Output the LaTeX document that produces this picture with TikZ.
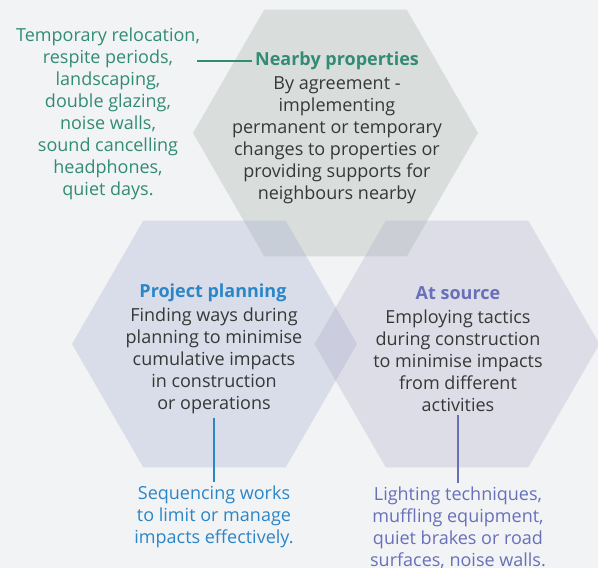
\documentclass[tikz,border=0pt]{standalone}
\usepackage{fontspec}
\setmainfont{Open Sans}
\usetikzlibrary{shapes}

\definecolor{bgpaper}{RGB}{242,243,245}
\definecolor{nearbyfill}{RGB}{146,163,153}
\definecolor{planfill}{RGB}{146,159,201}
\definecolor{sourcefill}{RGB}{162,159,193}
\definecolor{nearbytxt}{RGB}{50,140,115}
\definecolor{plantxt}{RGB}{43,134,200}
\definecolor{sourcetxt}{RGB}{104,112,186}
\definecolor{bodytxt}{RGB}{55,55,55}

\begin{document}
\begin{tikzpicture}[x=1pt, y=1pt,
    hexa/.style={regular polygon, regular polygon sides=6, minimum size=285pt, inner sep=0pt, fill opacity=0.25},
    head/.style={font=\fontsize{18}{22}\selectfont\bfseries},
    body/.style={align=center, text=bodytxt, font=\fontsize{18}{22}\selectfont},
    note/.style={align=center, font=\fontsize{18}{22}\selectfont},
    link/.style={line width=1.2pt}]
    \fill[bgpaper] (0,0) rectangle (598,568);
    \useasboundingbox (0,0) rectangle (598,568);
    % the three hexagons
    \node[hexa, fill=nearbyfill] (hnear) at (335.5,435) {};
    \node[hexa, fill=planfill] (hplan) at (214.5,224) {};
    \node[hexa, fill=sourcefill] (hsource) at (457,224) {};
    % nearby properties
    \node[head, text=nearbytxt] (near) at (337,507) {Nearby properties};
    \node[body] (nearb) at (337,427.5) {By agreement -\\implementing\\permanent or temporary\\changes to properties or\\providing supports for\\neighbours nearby};
    \node[note, text=nearbytxt] (nearn) at (108,454) {Temporary relocation,\\respite periods,\\landscaping,\\double glazing,\\noise walls,\\sound cancelling\\headphones,\\quiet days.};
    \coordinate (nearc) at (197,507);
    \draw[link, nearbytxt] (nearc) -- (near.west);
    % project planning
    \node[head, text=plantxt] (plan) at (213,275) {Project planning};
    \node[body] (planb) at (214,207) {Finding ways during\\planning to minimise\\cumulative impacts\\in construction\\or operations};
    \node[note, text=plantxt] (plann) at (214,51) {Sequencing works\\to limit or manage\\impacts effectively.};
    \draw[link, plantxt] (planb.south) -- (plann.north);
    % at source
    \node[head, text=sourcetxt] (source) at (458,275) {At source};
    \node[body] (sourceb) at (458,207) {Employing tactics\\during construction\\to minimise impacts\\from different\\activities};
    \node[note, text=sourcetxt] (sourcen) at (458,40) {Lighting techniques,\\muffling equipment,\\quiet brakes or road\\surfaces, noise walls.};
    \draw[link, sourcetxt] (sourceb.south) -- (sourcen.north);
\end{tikzpicture}
\end{document}
